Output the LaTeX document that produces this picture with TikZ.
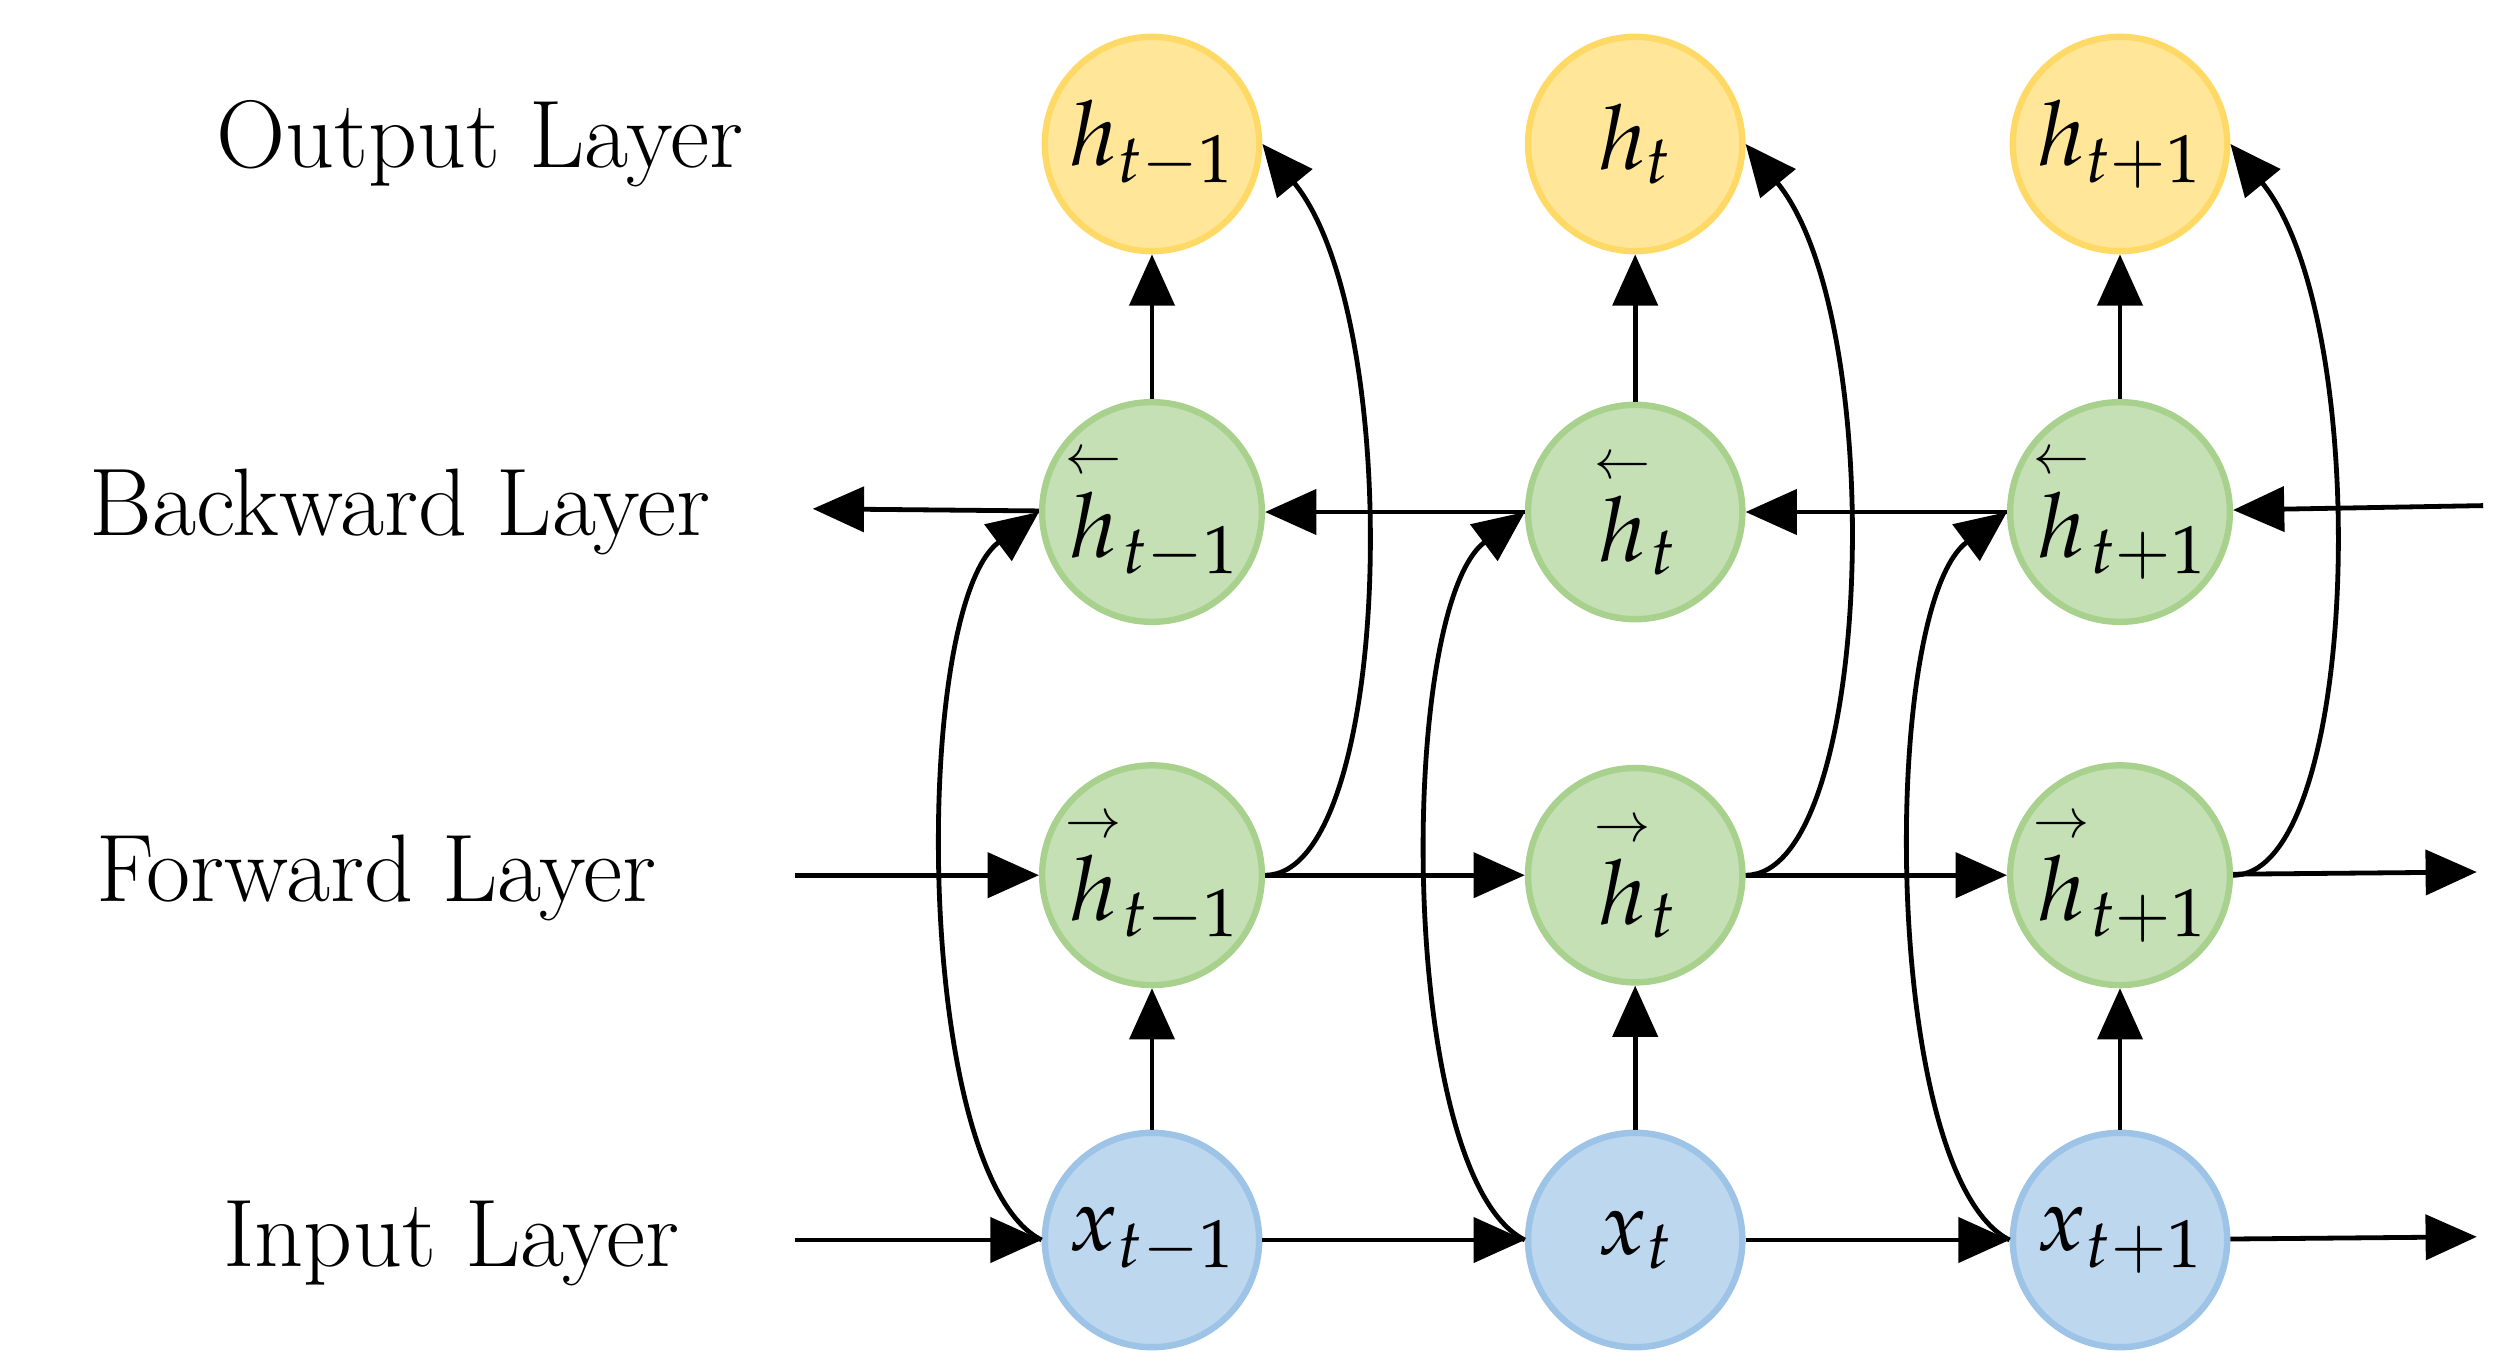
\documentclass[tikz,border=0pt]{standalone}
\usepackage{amsmath}
\usepackage{mathpazo}
\usetikzlibrary{arrows.meta}
\begin{document}
\definecolor{yfill}{RGB}{255,230,153}\definecolor{ydraw}{RGB}{255,217,102}
\definecolor{gfill}{RGB}{197,224,180}\definecolor{gdraw}{RGB}{169,209,142}
\definecolor{bfill}{RGB}{189,215,238}\definecolor{bdraw}{RGB}{157,195,230}
\newcommand{\bwd}{\overset{\scriptscriptstyle\leftarrow}{h}}
\newcommand{\fwd}{\overset{\scriptscriptstyle\rightarrow}{h}}
\begin{tikzpicture}[x=0.5pt,y=0.5pt,yscale=-1,
  unit/.style={circle,minimum size=67pt,inner sep=0pt,line width=2pt,font=\fontsize{28}{32}\selectfont},
  outn/.style={unit,fill=yfill,draw=ydraw},
  hidn/.style={unit,fill=gfill,draw=gdraw},
  inn/.style={unit,fill=bfill,draw=bdraw},
  lab/.style={font=\fontfamily{ppl}\fontsize{30}{36}\selectfont,anchor=center},
  arr/.style={line width=1.5pt,-{Triangle[length=16pt,width=14pt]}}]
\useasboundingbox (0,0) rectangle (1560,857);
% layer labels
\node[lab] (lo) at (300,90) {Output Layer};
\node[lab] (lb) at (250,320) {Backward Layer};
\node[lab] (lf) at (235,549) {Forward Layer};
\node[lab] (li) at (282,777) {Input Layer};
% units
\foreach \i/\x/\s in {1/720/{t-1},2/1022/t,3/1325/{t+1}}{
  \node[outn] (o\i) at (\x,90) {$h_{\s}$};
  \node[hidn] (b\i) at (\x,320) {$\bwd_{\s}$};
  \node[hidn] (f\i) at (\x,547) {$\fwd_{\s}$};
  \node[inn] (i\i) at (\x,775) {$x_{\s}$};
}
% free ends
\coordinate (iin) at (497,775); \coordinate (iout) at (1548,773);
\coordinate (fin) at (497,547); \coordinate (fout) at (1548,545);
\coordinate (bin) at (1552,316); \coordinate (bout) at (508,318);
% horizontal chains
\draw[arr] (iin) -- (i1); \draw[arr] (i1) -- (i2); \draw[arr] (i2) -- (i3); \draw[arr] (i3) -- (iout);
\draw[arr] (fin) -- (f1); \draw[arr] (f1) -- (f2); \draw[arr] (f2) -- (f3); \draw[arr] (f3) -- (fout);
\draw[arr] (bin) -- (b3); \draw[arr] (b3) -- (b2); \draw[arr] (b2) -- (b1); \draw[arr] (b1) -- (bout);
% vertical and skip connections
\foreach \i in {1,2,3}{
  \draw[arr] (i\i) -- (f\i);
  \draw[arr] (b\i) -- (o\i);
  \draw[arr] (i\i.west) .. controls +(-80,-40) and +(-80,60) .. (b\i.west);
  \draw[arr] (f\i.east) .. controls +(80,0) and +(90,110) .. (o\i.east);
}
\end{tikzpicture}
\end{document}
